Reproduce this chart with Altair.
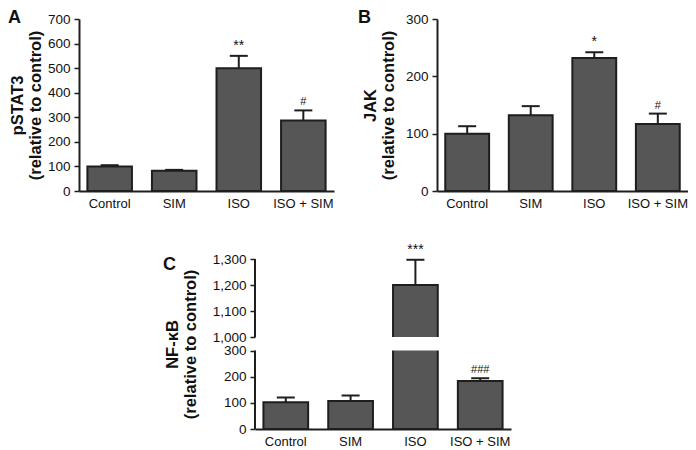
import altair as alt
import pandas as pd

groups = ["Control", "SIM", "ISO", "ISO + SIM"]

pstat3 = [100, 82, 500, 287]
pstat3_err = [105, 86, 550, 328]
pstat3_sig = ["", "", "**", "#"]

jak = [100, 132, 232, 117]
jak_err = [113, 148, 242, 135]
jak_sig = ["", "", "*", "#"]

nfkb = [102, 107, 1200, 183]
nfkb_err = [120, 128, 1297, 194]
nfkb_sig = ["", "", "***", "###"]

sig_sizes = [12, 12, 14, 11]

FONT = "Liberation Sans"
BAR_FILL = "#565656"
DARK = "#1e1e1e"


def make_panel(values, errs, sig, title, yscale, tick_vals, fmt, letter,
               letter_x, letter_y, width, height, title_pad, broken=None):
    df = pd.DataFrame({"group": groups, "value": values, "err": errs,
                       "sig": sig, "fs": sig_sizes})
    xenc = alt.X("group:N", sort=groups,
                 scale=alt.Scale(paddingInner=0.31, paddingOuter=0.13),
                 axis=alt.Axis(title=None, labelAngle=0, ticks=False,
                               domainColor=DARK, domainWidth=2,
                               labelFont=FONT, labelFontSize=13,
                               labelColor="#111", labelPadding=6))
    yaxis = alt.Axis(title=title, values=tick_vals, format=fmt, grid=False,
                     domain=broken is None, domainColor=DARK, domainWidth=2,
                     tickColor=DARK, tickWidth=1.5, tickSize=5,
                     labelFont=FONT, labelFontSize=13.5, labelColor="#111",
                     labelPadding=4, titleFont=FONT, titleFontSize=16.5,
                     titleFontWeight="bold", titleColor="#111",
                     titlePadding=title_pad, titleLineHeight=18)

    def Y(field):
        return alt.Y(field, scale=yscale, axis=yaxis)

    base = alt.Chart(df)
    bars = base.mark_bar(fill=BAR_FILL, stroke=DARK, strokeWidth=2).encode(
        x=xenc, y=Y("value:Q"))
    err_line = base.mark_rule(color=DARK, strokeWidth=2).encode(
        x=xenc, y=Y("value:Q"), y2="err:Q")
    caps = base.mark_tick(orient="horizontal", color=DARK, size=18,
                          thickness=2, opacity=1).encode(x=xenc, y=Y("err:Q"))
    sig_text = base.mark_text(baseline="bottom", dy=-3, font=FONT,
                              color="#111").encode(
        x=xenc, y=Y("err:Q"), text="sig:N",
        size=alt.Size("fs:Q", scale=None, legend=None))
    layers = [err_line, caps, bars]
    if broken is not None:
        gap_df, axis_df = broken
        gap = alt.Chart(gap_df).mark_bar(
            fill="white", strokeWidth=0,
            width=alt.RelativeBandSize(1.14)).encode(
            x=xenc, y=Y("lo:Q"), y2="hi:Q")
        axis_rules = alt.Chart(axis_df).mark_rule(
            color=DARK, strokeWidth=2).encode(
            x=alt.value(0), y=Y("lo:Q"), y2="hi:Q")
        layers += [gap, axis_rules]
    lab = alt.Chart(pd.DataFrame({"t": [letter]})).mark_text(
        align="left", baseline="top", font=FONT, fontSize=18,
        fontWeight="bold", color="#111").encode(
        x=alt.value(letter_x), y=alt.value(letter_y), text="t:N")
    layers += [sig_text, lab]
    return alt.layer(*layers).properties(width=width, height=height)


panel_a = make_panel(pstat3, pstat3_err, pstat3_sig,
                     ["pSTAT3", "(relative to control)"],
                     alt.Scale(domain=[0, 700], nice=False),
                     [0, 100, 200, 300, 400, 500, 600, 700], "d",
                     "A", -71, -10, 255, 172, 4)
panel_b = make_panel(jak, jak_err, jak_sig,
                     ["JAK", "(relative to control)"],
                     alt.Scale(domain=[0, 300], nice=False),
                     [0, 100, 200, 300], "d",
                     "B", -79, -10, 251, 172, 9)

gap_df = pd.DataFrame({"group": ["ISO"], "lo": [300], "hi": [1000]})
axis_df = pd.DataFrame({"lo": [0, 1000], "hi": [300, 1300]})
panel_c = make_panel(nfkb, nfkb_err, nfkb_sig,
                     ["NF-\u03baB", "(relative to control)"],
                     alt.Scale(domain=[0, 300, 1000, 1300],
                               range=[170, 91.5, 78, 0], nice=False,
                               zero=False),
                     [0, 100, 200, 300, 1000, 1100, 1200, 1300], ",d",
                     "C", -92, -3, 256, 170, 14, broken=(gap_df, axis_df))

spacer = alt.Chart(pd.DataFrame({"s": [0]})).mark_point(opacity=0).encode(
    x=alt.value(65), y=alt.value(85)).properties(width=130, height=170)

row1 = alt.hconcat(panel_a, panel_b, spacing=103, bounds="flush")
row2 = alt.hconcat(spacer, panel_c, spacing=46, bounds="flush")

chart = alt.vconcat(row1, row2, spacing=32).properties(
    padding={"left": 0, "top": 1, "right": 0, "bottom": 0},
    background="white"
).configure_view(stroke=None)

chart.save("out.html", embed_options={"renderer": "svg", "actions": False})
